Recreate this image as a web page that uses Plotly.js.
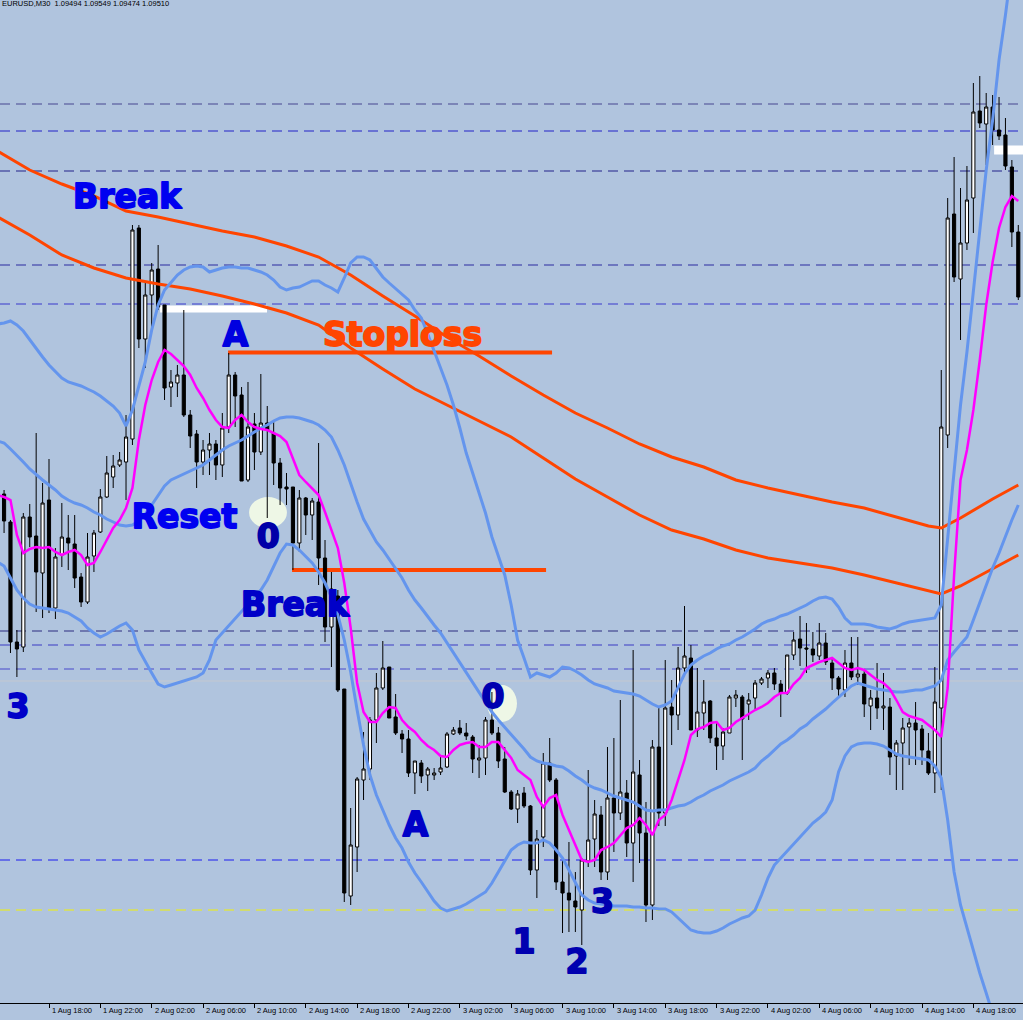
<!DOCTYPE html>
<html><head><meta charset="utf-8">
<script src="https://cdn.plot.ly/plotly-3.0.1.min.js"></script>
<style>html,body{margin:0;padding:0;background:#b0c4de;overflow:hidden}#chart{width:1023px;height:1020px}</style>
</head><body><div id="chart"></div>
<script>
// ---- header ----
const headerText = 'EURUSD,M30  1.09494 1.09549 1.09474 1.09510';
// bar 0 = 1 Aug 2023 14:00, 30-minute bars
const firstBarUTC = Date.UTC(2023, 7, 1, 14, 0);
const barMinutes = 30;

// ---- candles (bars 1..159) ----
const openP = [1.10006,1.09978,1.09858,1.09853,1.09983,1.09964,1.09927,1.10000,1.09892,1.09945,
1.09962,1.09956,1.09923,1.09898,1.09944,1.09968,1.10003,1.10023,1.10035,1.10038,
1.10061,1.10272,1.10161,1.10205,1.10231,1.10195,1.10113,1.10117,1.10125,1.10085,
1.10066,1.10038,1.10050,1.10056,1.10035,1.10073,1.10125,1.10105,1.10020,1.10076,
1.10048,1.10077,1.10067,1.10037,1.10013,1.10013,1.09957,1.10002,1.09985,1.09998,
1.09942,1.09873,1.09904,1.09811,1.09604,1.09653,1.09720,1.09731,1.09780,1.09812,
1.09833,1.09783,1.09766,1.09761,1.09727,1.09737,1.09725,1.09725,1.09728,1.09733,
1.09766,1.09772,1.09767,1.09763,1.09740,1.09742,1.09780,1.09767,1.09741,1.09708,
1.09691,1.09707,1.09694,1.09630,1.09663,1.09737,1.09720,1.09618,1.09607,1.09599,
1.09590,1.09639,1.09661,1.09685,1.09628,1.09702,1.09687,1.09707,1.09657,1.09725,
1.09667,1.09595,1.09753,1.09687,1.09793,1.09785,1.09832,1.09842,1.09770,1.09787,
1.09799,1.09762,1.09754,1.09767,1.09802,1.09803,1.09796,1.09802,1.09817,1.09822,
1.09827,1.09816,1.09807,1.09845,1.09861,1.09852,1.09851,1.09844,1.09857,1.09837,
1.09822,1.09810,1.09837,1.09823,1.09826,1.09794,1.09802,1.09792,1.09793,1.09744,
1.09757,1.09773,1.09777,1.09771,1.09749,1.09727,1.09792,1.10065,1.10286,1.10221,
1.10257,1.10302,1.10389,1.10376,1.10393,1.10370,1.10365,1.10333,1.10268];
const highP = [1.10010,1.09980,1.09870,1.09987,1.09996,1.10067,1.10017,1.10041,1.09952,1.09997,
1.09985,1.09985,1.09927,1.09967,1.09970,1.10011,1.10044,1.10045,1.10048,1.10085,
1.10275,1.10275,1.10217,1.10237,1.10255,1.10195,1.10130,1.10135,1.10190,1.10090,
1.10070,1.10060,1.10067,1.10060,1.10087,1.10147,1.10128,1.10113,1.10118,1.10087,
1.10126,1.10094,1.10080,1.10042,1.10027,1.10013,1.10010,1.10003,1.10002,1.10057,
1.09960,1.09928,1.09910,1.09811,1.09692,1.09723,1.09768,1.09783,1.09827,1.09859,
1.09833,1.09806,1.09770,1.09770,1.09739,1.09740,1.09733,1.09732,1.09744,1.09768,
1.09773,1.09780,1.09777,1.09765,1.09755,1.09783,1.09808,1.09773,1.09753,1.09710,
1.09710,1.09713,1.09695,1.09670,1.09747,1.09762,1.09722,1.09640,1.09658,1.09628,
1.09642,1.09730,1.09700,1.09694,1.09753,1.09762,1.09800,1.09720,1.09850,1.09740,
1.09698,1.09760,1.09794,1.09840,1.09820,1.09853,1.09894,1.09855,1.09832,1.09820,
1.09800,1.09777,1.09772,1.09805,1.09810,1.09805,1.09807,1.09820,1.09823,1.09830,
1.09832,1.09820,1.09845,1.09868,1.09884,1.09877,1.09868,1.09877,1.09867,1.09843,
1.09824,1.09850,1.09863,1.09863,1.09830,1.09810,1.09837,1.09827,1.09802,1.09760,
1.09782,1.09782,1.09798,1.09775,1.09767,1.09833,1.10130,1.10302,1.10343,1.10312,
1.10334,1.10417,1.10424,1.10407,1.10405,1.10403,1.10382,1.10340,1.10275];
const lowP = [1.09967,1.09847,1.09823,1.09848,1.09953,1.09888,1.09882,1.09887,1.09881,1.09933,
1.09930,1.09912,1.09893,1.09896,1.09928,1.09967,1.10002,1.10012,1.10033,1.10000,
1.10055,1.10152,1.10132,1.10173,1.10190,1.10100,1.10093,1.10103,1.10083,1.10052,
1.10012,1.10025,1.10025,1.10020,1.10023,1.10067,1.10073,1.10019,1.10018,1.10030,
1.10045,1.09982,1.10015,1.09995,1.09995,1.09930,1.09948,1.09965,1.09960,1.09915,
1.09858,1.09833,1.09808,1.09598,1.09595,1.09628,1.09700,1.09720,1.09757,1.09810,
1.09782,1.09765,1.09747,1.09723,1.09706,1.09717,1.09709,1.09720,1.09725,1.09732,
1.09765,1.09765,1.09760,1.09727,1.09722,1.09725,1.09765,1.09732,1.09707,1.09690,
1.09677,1.09692,1.09625,1.09602,1.09653,1.09718,1.09610,1.09567,1.09568,1.09568,
1.09555,1.09633,1.09633,1.09620,1.09620,1.09648,1.09680,1.09643,1.09618,1.09637,
1.09578,1.09580,1.09674,1.09674,1.09755,1.09770,1.09825,1.09770,1.09763,1.09770,
1.09757,1.09730,1.09740,1.09767,1.09793,1.09740,1.09780,1.09790,1.09815,1.09812,
1.09810,1.09783,1.09805,1.09840,1.09834,1.09827,1.09838,1.09840,1.09835,1.09810,
1.09803,1.09803,1.09820,1.09815,1.09783,1.09770,1.09781,1.09770,1.09725,1.09710,
1.09710,1.09735,1.09735,1.09735,1.09725,1.09707,1.09710,1.10052,1.10218,1.10160,
1.10250,1.10267,1.10372,1.10335,1.10355,1.10360,1.10330,1.10253,1.10200];
const closeP = [1.09979,1.09858,1.09851,1.09983,1.09963,1.09928,1.09997,1.09892,1.09943,1.09963,
1.09957,1.09922,1.09898,1.09943,1.09967,1.10003,1.10027,1.10034,1.10040,1.10063,
1.10270,1.10161,1.10205,1.10230,1.10193,1.10112,1.10118,1.10125,1.10085,1.10064,
1.10038,1.10050,1.10056,1.10035,1.10072,1.10125,1.10104,1.10019,1.10073,1.10048,
1.10077,1.10070,1.10037,1.10012,1.10011,1.09957,1.10002,1.09985,1.09999,1.09942,
1.09873,1.09911,1.09810,1.09607,1.09655,1.09721,1.09731,1.09780,1.09812,1.09832,
1.09782,1.09767,1.09761,1.09727,1.09739,1.09724,1.09731,1.09727,1.09732,1.09766,
1.09770,1.09767,1.09764,1.09741,1.09742,1.09780,1.09767,1.09739,1.09708,1.09691,
1.09706,1.09694,1.09630,1.09661,1.09737,1.09720,1.09618,1.09607,1.09600,1.09593,
1.09640,1.09660,1.09686,1.09628,1.09702,1.09687,1.09708,1.09657,1.09728,1.09667,
1.09595,1.09753,1.09687,1.09792,1.09785,1.09832,1.09844,1.09770,1.09788,1.09798,
1.09762,1.09754,1.09768,1.09803,1.09805,1.09781,1.09800,1.09817,1.09821,1.09827,
1.09816,1.09807,1.09845,1.09860,1.09852,1.09851,1.09845,1.09857,1.09838,1.09822,
1.09811,1.09837,1.09823,1.09826,1.09796,1.09802,1.09792,1.09794,1.09743,1.09757,
1.09772,1.09777,1.09770,1.09750,1.09727,1.09798,1.10073,1.10282,1.10223,1.10257,
1.10300,1.10388,1.10377,1.10393,1.10370,1.10364,1.10334,1.10268,1.10203];

// ---- indicators (bars 0..159) ----
const maFast = [1.10005,1.10003,1.10000,1.09965,1.09947,1.09951,1.09953,1.09952,1.09953,1.09948,
1.09945,1.09948,1.09950,1.09945,1.09935,1.09937,1.09948,1.09960,1.09972,1.09980,
1.09992,1.10012,1.10060,1.10095,1.10120,1.10138,1.10150,1.10146,1.10140,1.10134,
1.10125,1.10112,1.10102,1.10090,1.10080,1.10073,1.10072,1.10080,1.10085,1.10078,
1.10073,1.10071,1.10070,1.10067,1.10064,1.10058,1.10042,1.10025,1.10018,1.10012,
1.10005,1.09988,1.09970,1.09952,1.09917,1.09872,1.09817,1.09788,1.09778,1.09778,
1.09787,1.09793,1.09792,1.09780,1.09773,1.09768,1.09760,1.09754,1.09750,1.09744,
1.09743,1.09750,1.09755,1.09757,1.09758,1.09753,1.09753,1.09758,1.09758,1.09750,
1.09742,1.09730,1.09725,1.09720,1.09703,1.09693,1.09702,1.09705,1.09685,1.09670,
1.09655,1.09640,1.09638,1.09640,1.09650,1.09653,1.09657,1.09664,1.09672,1.09675,
1.09682,1.09675,1.09665,1.09680,1.09685,1.09700,1.09720,1.09740,1.09765,1.09771,
1.09773,1.09777,1.09778,1.09770,1.09772,1.09778,1.09782,1.09786,1.09790,1.09793,
1.09797,1.09803,1.09807,1.09807,1.09816,1.09822,1.09832,1.09835,1.09838,1.09840,
1.09842,1.09837,1.09832,1.09830,1.09832,1.09830,1.09825,1.09820,1.09817,1.09811,
1.09800,1.09788,1.09784,1.09782,1.09780,1.09775,1.09770,1.09763,1.09812,1.09925,
1.10020,1.10050,1.10090,1.10140,1.10195,1.10238,1.10272,1.10293,1.10304,1.10299];
const bbUpper = [1.10176,1.10177,1.10179,1.10175,1.10169,1.10160,1.10152,1.10143,1.10135,1.10128,
1.10122,1.10118,1.10116,1.10114,1.10111,1.10108,1.10104,1.10099,1.10094,1.10087,
1.10074,1.10090,1.10115,1.10138,1.10170,1.10195,1.10210,1.10218,1.10225,1.10230,
1.10233,1.10234,1.10233,1.10228,1.10230,1.10232,1.10233,1.10233,1.10232,1.10232,
1.10230,1.10228,1.10225,1.10220,1.10213,1.10210,1.10212,1.10213,1.10216,1.10219,
1.10219,1.10215,1.10212,1.10208,1.10222,1.10237,1.10243,1.10243,1.10240,1.10232,
1.10223,1.10217,1.10211,1.10206,1.10200,1.10190,1.10182,1.10166,1.10150,1.10132,
1.10115,1.10095,1.10072,1.10047,1.10027,1.10006,1.09987,1.09963,1.09945,1.09925,
1.09895,1.09860,1.09842,1.09823,1.09827,1.09825,1.09823,1.09827,1.09833,1.09832,
1.09829,1.09825,1.09820,1.09816,1.09814,1.09812,1.09809,1.09808,1.09807,1.09806,
1.09804,1.09800,1.09796,1.09793,1.09795,1.09799,1.09812,1.09826,1.09835,1.09840,
1.09844,1.09847,1.09851,1.09854,1.09856,1.09860,1.09863,1.09867,1.09871,1.09876,
1.09879,1.09881,1.09884,1.09886,1.09889,1.09892,1.09895,1.09899,1.09902,1.09903,
1.09901,1.09893,1.09882,1.09876,1.09876,1.09876,1.09875,1.09873,1.09872,1.09871,
1.09873,1.09876,1.09878,1.09879,1.09880,1.09881,1.09882,1.09895,1.09960,1.10030,
1.10095,1.10148,1.10210,1.10275,1.10330,1.10380,1.10440,1.10485,1.10535,1.10585];
const bbMiddle = [1.10059,1.10057,1.10051,1.10045,1.10038,1.10031,1.10025,1.10020,1.10015,1.10010,
1.10004,1.10000,1.09997,1.09995,1.09992,1.09988,1.09985,1.09981,1.09978,1.09975,
1.09974,1.09975,1.09979,1.09986,1.09995,1.10005,1.10014,1.10020,1.10023,1.10026,
1.10029,1.10032,1.10035,1.10040,1.10045,1.10050,1.10054,1.10057,1.10060,1.10064,
1.10068,1.10072,1.10075,1.10079,1.10082,1.10083,1.10083,1.10082,1.10080,1.10078,
1.10075,1.10070,1.10063,1.10050,1.10035,1.10016,1.09998,1.09981,1.09970,1.09958,
1.09950,1.09941,1.09932,1.09922,1.09910,1.09900,1.09892,1.09883,1.09875,1.09867,
1.09857,1.09847,1.09837,1.09827,1.09817,1.09807,1.09797,1.09788,1.09780,1.09773,
1.09765,1.09758,1.09751,1.09743,1.09739,1.09737,1.09736,1.09734,1.09733,1.09729,
1.09724,1.09720,1.09715,1.09712,1.09710,1.09707,1.09704,1.09702,1.09700,1.09698,
1.09694,1.09690,1.09689,1.09690,1.09690,1.09692,1.09694,1.09695,1.09698,1.09702,
1.09705,1.09709,1.09712,1.09715,1.09719,1.09722,1.09725,1.09728,1.09732,1.09739,
1.09744,1.09750,1.09756,1.09760,1.09765,1.09771,1.09775,1.09781,1.09786,1.09791,
1.09797,1.09803,1.09809,1.09814,1.09817,1.09815,1.09813,1.09811,1.09810,1.09809,
1.09808,1.09808,1.09809,1.09810,1.09810,1.09812,1.09814,1.09820,1.09840,1.09848,
1.09855,1.09863,1.09880,1.09898,1.09915,1.09932,1.09947,1.09964,1.09980,1.09995];
const bbLower = [1.09938,1.09934,1.09922,1.09910,1.09902,1.09896,1.09893,1.09892,1.09891,1.09890,
1.09889,1.09887,1.09883,1.09879,1.09872,1.09867,1.09863,1.09866,1.09870,1.09874,
1.09877,1.09870,1.09850,1.09838,1.09827,1.09816,1.09813,1.09815,1.09817,1.09819,
1.09821,1.09823,1.09827,1.09840,1.09860,1.09867,1.09875,1.09882,1.09888,1.09896,
1.09903,1.09910,1.09920,1.09933,1.09947,1.09956,1.09955,1.09950,1.09944,1.09937,
1.09928,1.09917,1.09903,1.09885,1.09860,1.09828,1.09790,1.09755,1.09725,1.09705,
1.09690,1.09675,1.09662,1.09652,1.09638,1.09627,1.09618,1.09608,1.09599,1.09592,
1.09589,1.09591,1.09593,1.09596,1.09600,1.09604,1.09608,1.09617,1.09628,1.09640,
1.09650,1.09655,1.09658,1.09657,1.09657,1.09660,1.09657,1.09650,1.09642,1.09630,
1.09618,1.09605,1.09600,1.09597,1.09596,1.09595,1.09594,1.09594,1.09594,1.09593,
1.09593,1.09592,1.09592,1.09591,1.09591,1.09588,1.09582,1.09575,1.09570,1.09568,
1.09567,1.09567,1.09569,1.09572,1.09576,1.09579,1.09582,1.09584,1.09590,1.09605,
1.09622,1.09635,1.09642,1.09649,1.09656,1.09663,1.09670,1.09677,1.09682,1.09688,
1.09700,1.09728,1.09744,1.09753,1.09756,1.09757,1.09757,1.09756,1.09754,1.09750,
1.09746,1.09744,1.09743,1.09742,1.09741,1.09740,1.09734,1.09722,1.09680,1.09628,
1.09595,1.09572,1.09550,1.09527,1.09507,1.09485,1.09465,1.09445,1.09425,1.09405];

// slow moving averages, read at these bar numbers
const slowBars = [0,5,10,15,20,25,30,35,40,45,50,55,60,65,70,75,80,85,90,95,100,105,110,115,120,125,130,135,140,145,147,150,155,159];
const maSlowA = [1.10349,1.10330,1.10316,1.10304,1.10289,1.10283,1.10276,1.10269,1.10263,1.10254,1.10243,1.10225,1.10204,1.10184,1.10163,1.10144,1.10124,1.10105,1.10087,1.10072,1.10056,1.10043,1.10033,1.10020,1.10012,1.10005,1.09998,1.09992,1.09983,1.09974,1.09972,1.09982,1.10001,1.10015];
const maSlowB = [1.10283,1.10265,1.10245,1.10232,1.10222,1.10216,1.10211,1.10204,1.10196,1.10187,1.10175,1.10152,1.10131,1.10111,1.10095,1.10079,1.10063,1.10042,1.10021,1.10003,1.09985,1.09970,1.09961,1.09950,1.09942,1.09937,1.09932,1.09925,1.09917,1.09909,1.09906,1.09914,1.09931,1.09945];

// ---- horizontal price levels ----
const levelPrices = [1.10396,1.10369,1.10329,1.10235,1.10196,1.09869,1.09855,1.09831,1.09640,1.09590];
const levelColors = ['#464690','#2222c8','#22228a','#2a2aa0','#3838cc','#2c2c80','#3a3ac4','#4848cc','#1c1cf0','#f2f200'];
const bidLevel = 1.09819;

// trend segments [startTime, endTime, price]
const stoplossSeg = ['2023-08-02 07:57','2023-08-03 09:11',1.101475];
const lowerSeg = ['2023-08-02 12:56','2023-08-03 08:43',1.09930];
const whiteSegA = ['2023-08-02 02:39','2023-08-02 10:59',1.10191];
const whiteSegB = ['2023-08-04 19:37','2023-08-04 23:30',1.10350];
const ovalA = ['2023-08-02 09:35','2023-08-02 12:32',1.10003,1.09972];
const ovalB = ['2023-08-03 04:07','2023-08-03 06:27',1.09815,1.09778];

// ---- text labels ----
const labelText = ['Break','Reset','A','0','Break','3','Stoploss','A','0','1','2','3'];
const labelTime = ['2023-08-02 00:05','2023-08-02 04:33','2023-08-02 08:32','2023-08-02 11:04','2023-08-02 13:10','2023-08-01 15:35','2023-08-02 21:32','2023-08-02 22:33','2023-08-03 04:35','2023-08-03 07:00','2023-08-03 11:08','2023-08-03 13:07'];
const labelPrice = [1.10300,1.09980,1.10162,1.09960,1.09892,1.09790,1.10162,1.09672,1.09800,1.09555,1.09535,1.09595];
const labelColor = ['#0000f0','#0000f0','#0000e0','#0000a8','#0000c8','#0000c8','#ff4500','#0000c8','#0000b0','#0000b0','#0000b0','#0000b0'];

// ---- time axis labels ----
const tickTimes = ['2023-08-01 14:00','2023-08-01 18:00','2023-08-01 22:00','2023-08-02 02:00','2023-08-02 06:00','2023-08-02 10:00','2023-08-02 14:00','2023-08-02 18:00','2023-08-02 22:00','2023-08-03 02:00','2023-08-03 06:00','2023-08-03 10:00','2023-08-03 14:00','2023-08-03 18:00','2023-08-03 22:00','2023-08-04 02:00','2023-08-04 06:00','2023-08-04 10:00','2023-08-04 14:00','2023-08-04 18:00'];
const tickTexts = ['1 Aug 2023','1 Aug 18:00','1 Aug 22:00','2 Aug 02:00','2 Aug 06:00','2 Aug 10:00','2 Aug 14:00','2 Aug 18:00','2 Aug 22:00','3 Aug 02:00','3 Aug 06:00','3 Aug 10:00','3 Aug 14:00','3 Aug 18:00','3 Aug 22:00','4 Aug 02:00','4 Aug 06:00','4 Aug 10:00','4 Aug 14:00','4 Aug 18:00'];

// ---- build ----
function barTime(i){
  const d = new Date(firstBarUTC + i*barMinutes*60000);
  return d.toISOString().slice(0,16).replace('T',' ');
}
const candleTimes = openP.map((_,k)=>barTime(k+1));
const lineTimes = maFast.map((_,k)=>barTime(k));
const slowTimes = slowBars.map(barTime);

const BLUE = '#6495ed', MAG = '#ff00ff', ORG = '#ff4500';
const traces = [
  {type:'scatter',mode:'lines',x:slowTimes,y:maSlowA,line:{color:ORG,width:3},hoverinfo:'skip'},
  {type:'scatter',mode:'lines',x:slowTimes,y:maSlowB,line:{color:ORG,width:3},hoverinfo:'skip'},
  {type:'scatter',mode:'lines',x:lineTimes,y:bbUpper,line:{color:BLUE,width:3},hoverinfo:'skip'},
  {type:'scatter',mode:'lines',x:lineTimes,y:bbMiddle,line:{color:BLUE,width:3},hoverinfo:'skip'},
  {type:'scatter',mode:'lines',x:lineTimes,y:bbLower,line:{color:BLUE,width:3},hoverinfo:'skip'},
  {type:'scatter',mode:'lines',x:lineTimes,y:maFast,line:{color:MAG,width:2.5},hoverinfo:'skip'},
  {type:'scatter',mode:'text',x:labelTime,y:labelPrice,text:labelText.map(t=>'<b>'+t+'</b>'),textposition:'middle center',
   textfont:{family:'DejaVu Sans',size:33,weight:'bold',color:labelColor},hoverinfo:'skip',cliponaxis:false},
  {type:'candlestick',x:candleTimes,open:openP,high:highP,low:lowP,close:closeP,
   increasing:{line:{color:'#000000',width:1},fillcolor:'#ffffff'},
   decreasing:{line:{color:'#000000',width:1},fillcolor:'#000000'},
   whiskerwidth:0,hoverinfo:'skip'}
];

const shapes = [];
levelPrices.forEach((p,k)=>shapes.push({type:'line',layer:'below',xref:'paper',x0:0,x1:1,yref:'y',y0:p,y1:p,
  line:{color:levelColors[k],width:1,dash:'10px,6px'}}));
shapes.push({type:'line',layer:'below',xref:'paper',x0:0,x1:1,yref:'y',y0:bidLevel,y1:bidLevel,line:{color:'#c4c8d0',width:1}});
[ovalA,ovalB].forEach(o=>shapes.push({type:'circle',layer:'below',xref:'x',yref:'y',x0:o[0],x1:o[1],y0:o[2],y1:o[3],
  fillcolor:'#eef7e6',line:{width:0}}));
shapes.push({type:'line',layer:'below',xref:'x',yref:'y',x0:whiteSegA[0],x1:whiteSegA[1],y0:whiteSegA[2],y1:whiteSegA[2],line:{color:'#ffffff',width:7}});
shapes.push({type:'line',layer:'below',xref:'x',yref:'y',x0:whiteSegB[0],x1:whiteSegB[1],y0:whiteSegB[2],y1:whiteSegB[2],line:{color:'#ffffff',width:9}});
shapes.push({type:'line',layer:'below',xref:'x',yref:'y',x0:stoplossSeg[0],x1:stoplossSeg[1],y0:stoplossSeg[2],y1:stoplossSeg[2],line:{color:ORG,width:4}});
shapes.push({type:'line',layer:'below',xref:'x',yref:'y',x0:lowerSeg[0],x1:lowerSeg[1],y0:lowerSeg[2],y1:lowerSeg[2],line:{color:ORG,width:4}});

const annotations = tickTimes.map((t,k)=>({x:t,xref:'x',y:0,yref:'paper',yanchor:'top',xanchor:'left',
  xshift:1,yshift:-1,showarrow:false,text:tickTexts[k],font:{family:'Liberation Sans',size:7.5,color:'#000000'}}));
annotations.push({x:0,xref:'paper',y:1,yref:'paper',xanchor:'left',yanchor:'top',yshift:3,xshift:0,showarrow:false,
  text:headerText,font:{family:'Liberation Sans',size:7.5,color:'#000000'}});

const layout = {
  width:1023,height:1020,margin:{l:0,r:0,t:0,b:17},
  paper_bgcolor:'#b0c4de',plot_bgcolor:'#b0c4de',showlegend:false,
  xaxis:{type:'date',range:['2023-08-01 14:11','2023-08-04 21:52'],rangeslider:{visible:false},
    showgrid:false,zeroline:false,showline:true,linecolor:'#000000',linewidth:1,
    tickmode:'array',tickvals:tickTimes,ticks:'outside',ticklen:4,tickcolor:'#000000',showticklabels:false,fixedrange:true},
  yaxis:{range:[1.09497,1.10500],visible:false,fixedrange:true},
  shapes:shapes,annotations:annotations
};
Plotly.newPlot('chart',traces,layout,{staticPlot:true,displayModeBar:false}).then(()=>{
  // heavier strokes for the bold chart labels (as in the terminal's heavy object font)
  document.querySelectorAll('.textpoint text').forEach(t=>{
    const c = t.style.fill || t.getAttribute('fill');
    t.style.stroke = c; t.style.strokeWidth = '1.8px'; t.style.strokeLinejoin = 'round';
  });
});
</script>
</body></html>
